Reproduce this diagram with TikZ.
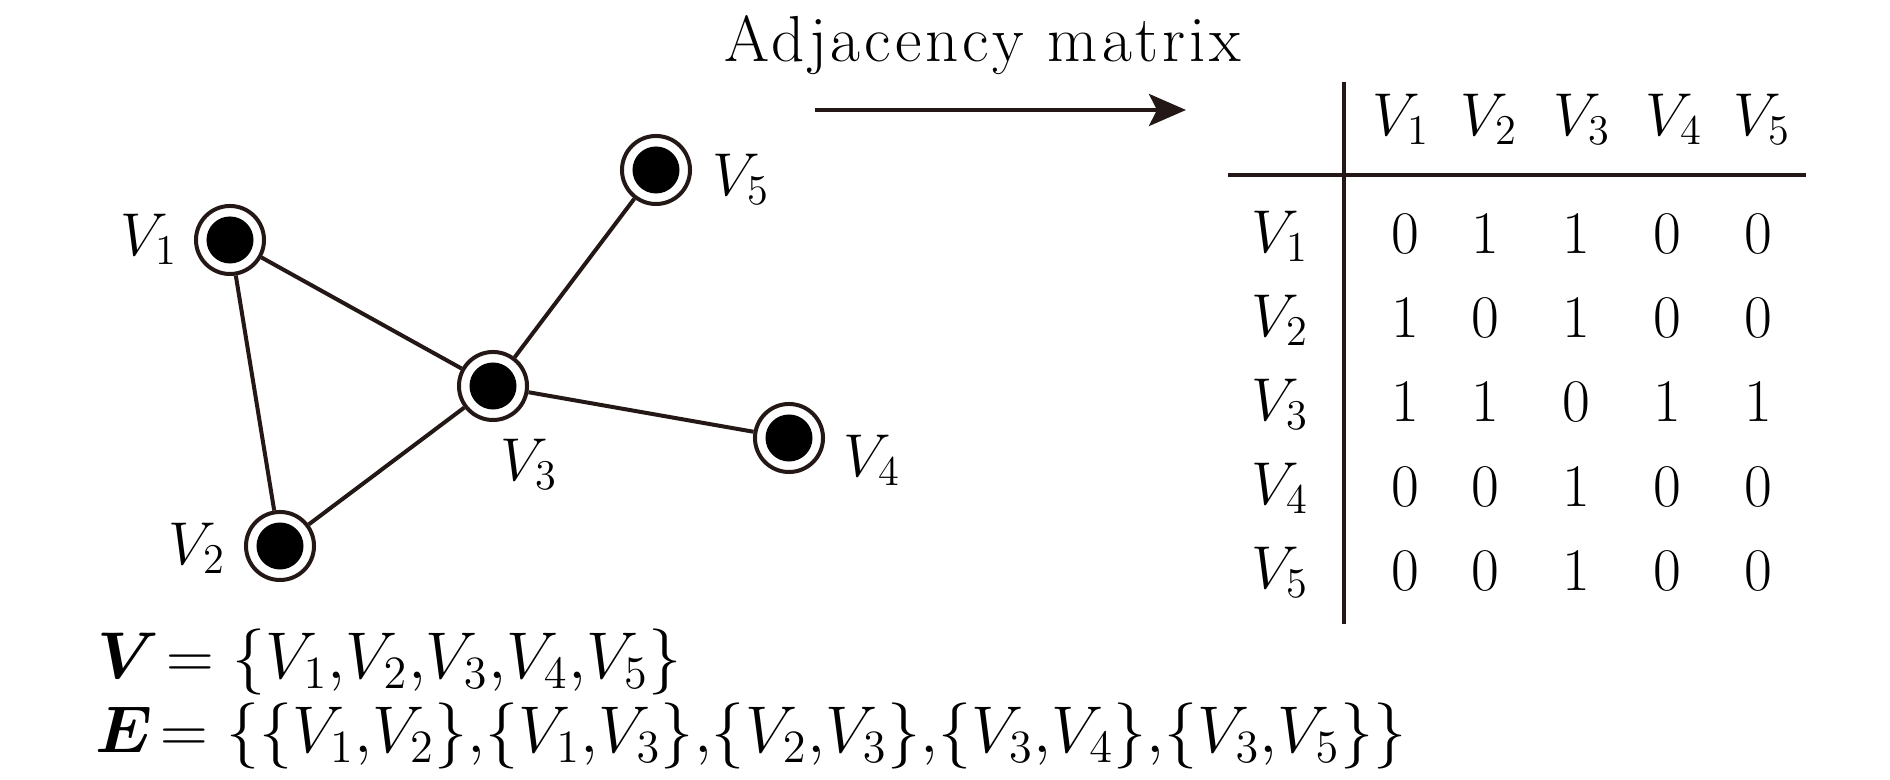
\RequirePackage{fix-cm}
\documentclass[tikz,border=0pt]{standalone}
\usepackage{bm}
\usepackage{fontspec}
\newfontfamily\titlefont[LetterSpace=6]{Latin Modern Roman}
\usetikzlibrary{arrows.meta}
\definecolor{ink}{RGB}{35,24,21}
\begin{document}
\begin{tikzpicture}[x=0.01cm,y=-0.01cm,
  every node/.style={font=\fontsize{17.2}{20}\selectfont, text=black, inner sep=0pt},
  vert/.style={circle, draw=ink, line width=0.04cm, fill=white, minimum size=0.68cm,
    path picture={\fill[black] (path picture bounding box.center) circle (0.235cm);}},
  edge/.style={draw=ink, line width=0.04cm},
  rule/.style={draw=ink, line width=0.045cm},
  bottomtext/.style={anchor=west, font=\fontsize{18.8}{22}\selectfont}]
\useasboundingbox (0,0) rectangle (1890,780);

% graph
\node[vert] (v1) at (230,240) {};
\node[vert] (v2) at (280,546) {};
\node[vert] (v3) at (493,386) {};
\node[vert] (v4) at (789,438) {};
\node[vert] (v5) at (656,170) {};
\draw[edge] (v1) -- (v2);
\draw[edge] (v1) -- (v3);
\draw[edge] (v2) -- (v3);
\draw[edge] (v3) -- (v4);
\draw[edge] (v3) -- (v5);
\node (l1) at (149,239) {$V_1$};
\node (l2) at (197,548) {$V_2$};
\node (l3) at (529,464) {$V_3$};
\node (l4) at (872,460) {$V_4$};
\node (l5) at (741,179) {$V_5$};

% title and arrow
\node[font=\fontsize{18.5}{22}\titlefont] (title) at (983,45) {Adjacency matrix};
\coordinate (as) at (815,110);
\coordinate (ae) at (1186,110);
\draw[edge, -{Stealth[length=0.37cm,width=0.32cm,inset=0.08cm]}] (as) -- (ae);

% matrix rules
\coordinate (vt) at (1344,82);
\coordinate (vb) at (1344,624);
\coordinate (hl) at (1228,175);
\coordinate (hr) at (1806,175);
\draw[rule] (vt) -- (vb);
\draw[rule] (hl) -- (hr);

% headers
\foreach \c/\x in {1/1401,2/1489,3/1582,4/1674,5/1762}
  \node (h\c) at (\x,119) {$V_\c$};
\foreach \r/\y in {1/236,2/320,3/404,4/488,5/572}
  \node (r\r) at (1280,\y) {$V_\r$};

% entries
\foreach \c/\x/\v in {1/1405/0,2/1485/1,3/1576/1,4/1667/0,5/1758/0}
  \node (m1\c) at (\x,234) {$\v$};
\foreach \c/\x/\v in {1/1405/1,2/1485/0,3/1576/1,4/1667/0,5/1758/0}
  \node (m2\c) at (\x,318) {$\v$};
\foreach \c/\x/\v in {1/1405/1,2/1485/1,3/1576/0,4/1667/1,5/1758/1}
  \node (m3\c) at (\x,402) {$\v$};
\foreach \c/\x/\v in {1/1405/0,2/1485/0,3/1576/1,4/1667/0,5/1758/0}
  \node (m4\c) at (\x,487) {$\v$};
\foreach \c/\x/\v in {1/1405/0,2/1485/0,3/1576/1,4/1667/0,5/1758/0}
  \node (m5\c) at (\x,571) {$\v$};

% sets
\node[bottomtext] (vset) at (97,662) {$\bm{V}\!=\{V_1{,}V_2{,}V_3{,}V_4{,}V_5\}$};
\node[bottomtext] (eset) at (95,736) {$\bm{E}\!=\{\{V_1{,}V_2\}{,}\{V_1{,}V_3\}{,}\{V_2{,}V_3\}{,}\{V_3{,}V_4\}{,}\{V_3{,}V_5\}\}$};
\end{tikzpicture}
\end{document}
